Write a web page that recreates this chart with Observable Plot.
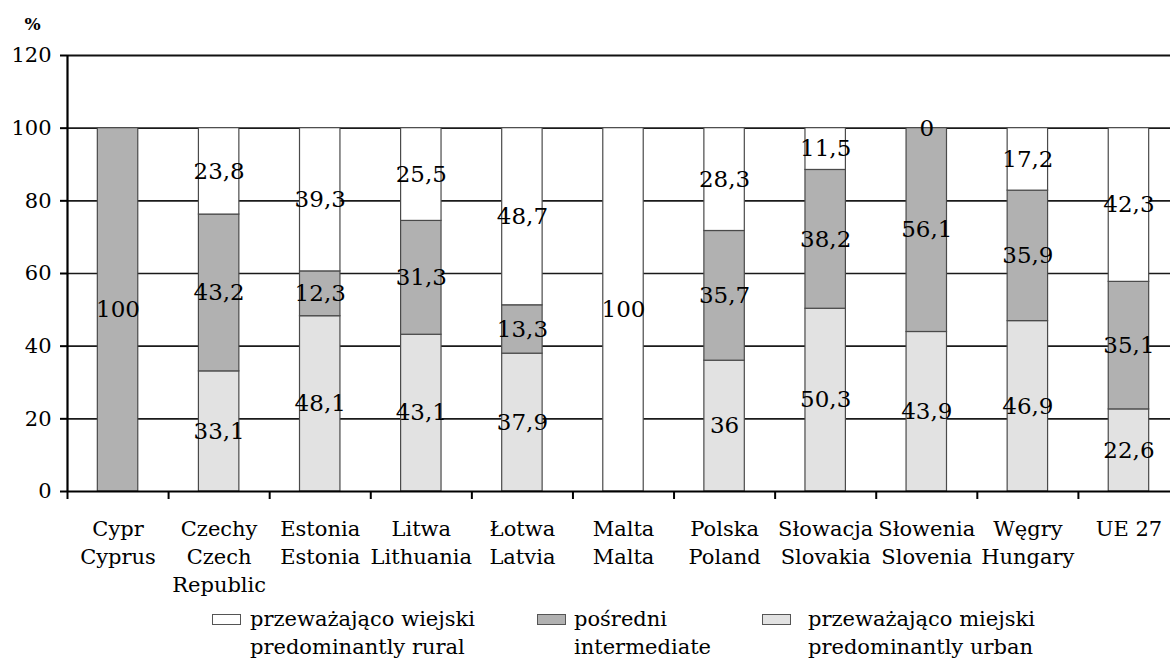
<!DOCTYPE html>
<html>
<head>
<meta charset="utf-8">
<script src="https://cdn.jsdelivr.net/npm/d3@7"></script>
<script src="https://cdn.jsdelivr.net/npm/@observablehq/plot@0.6"></script>
<style>
  html, body { margin: 0; padding: 0; background: #fff; }
  body { width: 1170px; height: 662px; overflow: hidden; font-family: "DejaVu Serif", serif; }
  #wrap { position: relative; width: 1170px; height: 662px; }
  #legend { position: absolute; top: 605px; left: 0; width: 1170px; height: 57px; }
  .item { position: absolute; top: 0; font-family: "DejaVu Serif", serif; font-size: 21px; line-height: 28px; color: #000; }
  .item .sw { position: absolute; left: 0; top: 9px; width: 29px; height: 11px; border: 1px solid #555; box-sizing: border-box; }
  .item .tx { position: absolute; top: 0; white-space: nowrap; }
</style>
</head>
<body>
<div id="wrap">
  <div id="chart"></div>
  <div id="legend"></div>
</div>
<script>
// ---- data ----
const categories = [
  "Cypr\nCyprus",
  "Czechy\nCzech\nRepublic",
  "Estonia\nEstonia",
  "Litwa\nLithuania",
  "Łotwa\nLatvia",
  "Malta\nMalta",
  "Polska\nPoland",
  "Słowacja\nSlovakia",
  "Słowenia\nSlovenia",
  "Węgry\nHungary",
  "UE 27"
];
// bottom to top order
const urban        = [null, 33.1, 48.1, 43.1, 37.9, null, 36,   50.3, 43.9, 46.9, 22.6];
const intermediate = [100,  43.2, 12.3, 31.3, 13.3, null, 35.7, 38.2, 56.1, 35.9, 35.1];
const rural        = [null, 23.8, 39.3, 25.5, 48.7, 100,  28.3, 11.5, 0,    17.2, 42.3];
const seriesNames = [
  ["urban", "przeważająco miejski\npredominantly urban"],
  ["intermediate", "pośredni\nintermediate"],
  ["rural", "przeważająco wiejski\npredominantly rural"]
];
const colors = { urban: "#e2e2e2", intermediate: "#b1b1b1", rural: "#ffffff" };
const yTicks = [0, 20, 40, 60, 80, 100, 120];

// ---- build 100% stacked segments ----
const seriesValues = { urban, intermediate, rural };
const segments = [];
categories.forEach((c, i) => {
  const total = d3.sum(seriesNames, ([key]) => seriesValues[key][i] || 0);
  let base = 0;
  for (const [key] of seriesNames) {
    const v = seriesValues[key][i];
    if (v == null) continue;
    const share = v / total * 100;
    segments.push({ i, key, value: v, y1: base, y2: base + share });
    base += share;
  }
});
const cats = categories.map((c, i) => ({ i, label: c }));
const boundaries = d3.range(0, categories.length + 1);
const fmt = v => String(v).replace(".", ",");

const chart = Plot.plot({
  width: 1170,
  height: 600,
  marginLeft: 67,
  marginRight: 0,
  marginTop: 55,
  marginBottom: 109,
  style: { fontFamily: "DejaVu Serif, serif", fontSize: "20px", color: "#000", background: "#fff" },
  x: { type: "linear", domain: [0, categories.length], range: [67, 1179] },
  y: { type: "linear", domain: [0, 120] },
  marks: [
    // grid lines
    Plot.ruleY(yTicks.filter(t => t > 0 && t < 120), { stroke: "#1a1a1a", strokeWidth: 1.6 }),
    Plot.ruleY([120], { stroke: "#111", strokeWidth: 2.2 }),
    // bars
    Plot.rectY(segments.filter(d => d.value > 0), {
      x1: d => d.i + 0.3,
      x2: d => d.i + 0.7,
      y1: "y1",
      y2: "y2",
      fill: d => colors[d.key],
      stroke: "#4a4a4a",
      strokeWidth: 1.2
    }),
    // value labels
    Plot.text(segments, {
      x: d => d.i + 0.5,
      y: d => (d.y1 + d.y2) / 2,
      text: d => fmt(d.value),
      fontSize: 23,
      fill: "#000"
    }),
    // axes lines
    Plot.ruleY([0], { stroke: "#000", strokeWidth: 2.2 }),
    Plot.ruleX([0], { y1: 0, y2: 120, stroke: "#000", strokeWidth: 2.2 }),
    // y ticks
    Plot.axisY(yTicks, { tickSize: 7, tickPadding: 9, stroke: "#000", strokeWidth: 2, fontSize: 21, tickFormat: d => d, label: null }),
    // x boundary ticks
    Plot.axisX(boundaries, { tickSize: 8, tickFormat: () => "", stroke: "#000", strokeWidth: 2, label: null }),
    // category labels
    Plot.text(cats, {
      x: d => d.i + 0.5,
      y: () => 0,
      text: "label",
      lineAnchor: "top",
      dy: 25,
      lineHeight: 1.32,
      fontSize: 21,
      fill: "#000"
    }),
    // unit label
    Plot.text(["%"], { frameAnchor: "top-left", textAnchor: "middle", lineAnchor: "middle", dx: -35, dy: -31, fontSize: 17, fontWeight: "bold", fill: "#000" })
  ]
});
document.getElementById("chart").appendChild(chart);

// ---- legend ----
const legendOrder = [["rural", 212, 38], ["intermediate", 537, 37], ["urban", 762, 46]];
const legend = document.getElementById("legend");
for (const [key, left, textOffset] of legendOrder) {
  const name = seriesNames.find(s => s[0] === key)[1];
  const item = document.createElement("div");
  item.className = "item";
  item.style.left = left + "px";
  const sw = document.createElement("div");
  sw.className = "sw";
  sw.style.background = colors[key];
  const tx = document.createElement("div");
  tx.className = "tx";
  tx.style.left = textOffset + "px";
  tx.innerHTML = name.split("\n").join("<br>");
  item.appendChild(sw);
  item.appendChild(tx);
  legend.appendChild(item);
}
</script>
</body>
</html>
